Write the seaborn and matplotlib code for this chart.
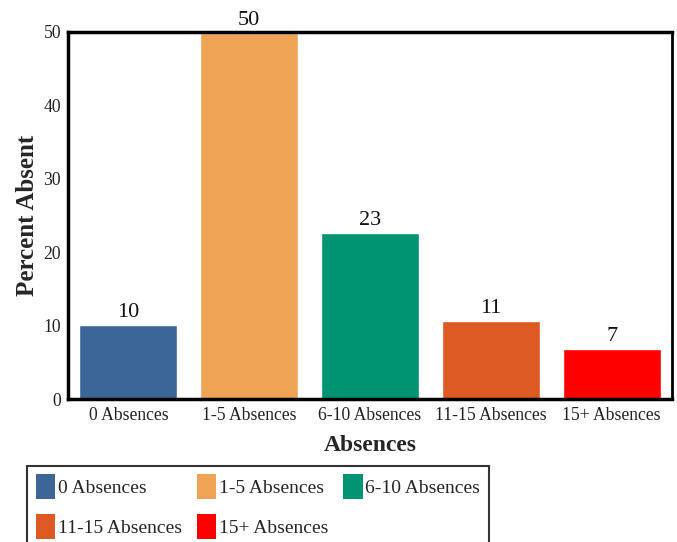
import matplotlib
matplotlib.use("Agg")
import matplotlib.pyplot as plt
import seaborn as sns
from matplotlib.patches import Patch

categories = ["0 Absences", "1-5 Absences", "6-10 Absences", "11-15 Absences", "15+ Absences"]
percent_absent = [10.1, 49.9, 22.6, 10.6, 6.8]
colors = ["#3c6697", "#efa355", "#009473", "#de5a23", "#fe0000"]

sns.set_theme(style="white")
plt.rcParams["font.family"] = ["Liberation Serif", "DejaVu Serif"]

fig = plt.figure(figsize=(6.77, 5.42), dpi=100)
ax = fig.add_axes([0.1004, 0.2638, 0.8922, 0.6772])

sns.barplot(x=categories, y=percent_absent, hue=categories, palette=colors,
            dodge=False, legend=False, width=0.81, saturation=1, ax=ax)

for cont in ax.containers:
    ax.bar_label(cont, fmt="{:.0f}", fontsize=16, padding=2, color="#111111")

ax.set_xlim(-0.5, 4.5)
ax.set_ylim(0, 50)
ax.set_yticks([0, 10, 20, 30, 40, 50])
ax.tick_params(axis="both", labelsize=12.7, length=0, colors="#222222")
ax.tick_params(axis="x", pad=6)
ax.tick_params(axis="y", pad=5)
ax.set_xlabel("Absences", fontsize=17, fontweight="bold", labelpad=8)
ax.set_ylabel("Percent Absent", fontsize=18, fontweight="bold", labelpad=3)

for side, spine in ax.spines.items():
    spine.set_visible(True)
    spine.set_color("black")
    spine.set_linewidth(2.5 if side in ("left", "bottom", "top") else 2)

# legend fills column by column, so reorder to read row by row
order = [0, 3, 1, 4, 2]
handles = [Patch(facecolor=colors[i], edgecolor="none", label=categories[i]) for i in order]
leg = fig.legend(handles=handles, loc="upper left", bbox_to_anchor=(0.04, 0.141),
                 bbox_transform=fig.transFigure, ncol=3, fontsize=14,
                 frameon=True, fancybox=False, edgecolor="black",
                 handlelength=1.0, handleheight=1.6, handletextpad=0.15,
                 columnspacing=0.75, labelspacing=0.75, borderpad=0.45,
                 borderaxespad=0)
leg.get_frame().set_linewidth(1.5)

fig.savefig("out.png", dpi=100)
